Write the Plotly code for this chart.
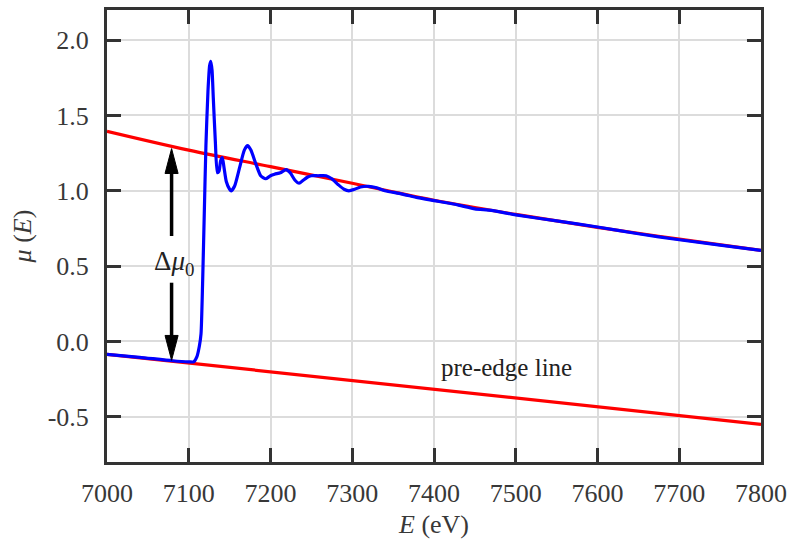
import plotly.graph_objects as go

# ---- data ----
# measured absorption mu(E)
energy = [7000, 7040, 7080, 7100, 7106, 7110, 7113, 7115, 7117, 7119, 7121,
          7123.5, 7125.5, 7127, 7128.5, 7130, 7132.5, 7135, 7137, 7139, 7141,
          7143, 7146, 7150, 7152, 7156, 7162, 7168, 7172, 7176, 7182, 7188,
          7194, 7200, 7205, 7212, 7219, 7224, 7230, 7235, 7240, 7245, 7250,
          7258, 7268, 7275, 7283, 7290, 7296, 7303, 7310, 7320, 7330, 7340,
          7360, 7380, 7400, 7430, 7450, 7470, 7500, 7550, 7600, 7650, 7700,
          7750, 7800]
mu = [-0.085, -0.105, -0.128, -0.135, -0.135, -0.10, -0.03, 0.05, 0.40, 0.85,
      1.30, 1.66, 1.83, 1.86, 1.80, 1.62, 1.33, 1.12, 1.13, 1.20, 1.22, 1.16,
      1.06, 1.01, 1.00, 1.03, 1.15, 1.27, 1.30, 1.27, 1.18, 1.10, 1.08, 1.10,
      1.11, 1.12, 1.14, 1.12, 1.07, 1.05, 1.07, 1.09, 1.10, 1.10, 1.10, 1.08,
      1.04, 1.01, 1.00, 1.01, 1.025, 1.03, 1.02, 1.00, 0.98, 0.955, 0.935,
      0.905, 0.88, 0.87, 0.84, 0.80, 0.76, 0.715, 0.675, 0.64, 0.605]

# post-edge line
post_energy = [7000, 7100, 7200, 7300, 7400, 7500, 7600, 7700, 7800]
post_mu = [1.395, 1.27, 1.16, 1.05, 0.937, 0.843, 0.757, 0.679, 0.605]

# pre-edge line
pre_energy = [7000, 7800]
pre_mu = [-0.085, -0.55]

# annotation positions
step_energy = 7079
step_top = 1.28
step_bottom = -0.125
step_label_mu = 0.52
pre_label_energy = 7489
pre_label_mu = -0.17

x_ticks = [7000, 7100, 7200, 7300, 7400, 7500, 7600, 7700, 7800]
y_ticks = [-0.5, 0.0, 0.5, 1.0, 1.5, 2.0]
y_ticklabels = ["-0.5", "0.0", "0.5", "1.0", "1.5", "2.0"]

FONT = "Liberation Serif"
AXCOL = "#333333"
TXT = "#383838"

# arrow geometry (style)
head_half = 8.0      # eV, half width of arrow head
head_len = 0.165     # mu units, arrow head length
upper_tail = 0.70
lower_tail = 0.39

fig = go.Figure()
fig.add_trace(go.Scatter(x=post_energy, y=post_mu, mode="lines",
                         line=dict(color="#ff0000", width=3.2, shape="spline"),
                         showlegend=False, hoverinfo="skip"))
fig.add_trace(go.Scatter(x=pre_energy, y=pre_mu, mode="lines",
                         line=dict(color="#ff0000", width=3.2),
                         showlegend=False, hoverinfo="skip"))
fig.add_trace(go.Scatter(x=energy, y=mu, mode="lines",
                         line=dict(color="#0000ff", width=3.2, shape="spline",
                                   smoothing=0.6),
                         showlegend=False))

# double arrow for the edge step: shafts
fig.add_shape(type="line", xref="x", yref="y",
              x0=step_energy, x1=step_energy,
              y0=upper_tail, y1=step_top - head_len * 0.9,
              line=dict(color="black", width=3.5))
fig.add_shape(type="line", xref="x", yref="y",
              x0=step_energy, x1=step_energy,
              y0=lower_tail, y1=step_bottom + head_len * 0.9,
              line=dict(color="black", width=3.5))
# arrow heads
up_path = (f"M {step_energy} {step_top} "
           f"L {step_energy - head_half} {step_top - head_len} "
           f"L {step_energy + head_half} {step_top - head_len} Z")
down_path = (f"M {step_energy} {step_bottom} "
             f"L {step_energy - head_half} {step_bottom + head_len} "
             f"L {step_energy + head_half} {step_bottom + head_len} Z")
for p in (up_path, down_path):
    fig.add_shape(type="path", xref="x", yref="y", path=p,
                  fillcolor="black", line=dict(color="black", width=1))

fig.add_annotation(x=step_energy + 3, y=step_label_mu, xref="x", yref="y",
                   text="Δ<i>μ</i><sub>0</sub>", showarrow=False,
                   font=dict(family=FONT, size=27, color="#222222"))
fig.add_annotation(x=pre_label_energy, y=pre_label_mu, xref="x", yref="y",
                   text="pre-edge line", showarrow=False,
                   font=dict(family=FONT, size=25, color="#222222"))

axis_common = dict(showline=True, linewidth=3, linecolor=AXCOL, mirror="ticks",
                   ticks="inside", ticklen=14, tickwidth=3, tickcolor=AXCOL,
                   showgrid=True, gridcolor="#dcdcdc", gridwidth=2,
                   zeroline=False,
                   tickfont=dict(family=FONT, size=26, color=TXT))

fig.update_xaxes(range=[7000, 7800], tickvals=x_ticks,
                 ticktext=[str(v) for v in x_ticks],
                 title=dict(text="<i>E</i> (eV)", standoff=8,
                            font=dict(family=FONT, size=26, color=TXT)),
                 ticklabelstandoff=6, **axis_common)
fig.update_yaxes(range=[-0.8, 2.2], tickvals=y_ticks, ticktext=y_ticklabels,
                 title=dict(text="<i>μ</i> (<i>E</i>)", standoff=9,
                            font=dict(family=FONT, size=26, color=TXT)),
                 ticklabelstandoff=10, **axis_common)

fig.update_layout(width=794, height=544, plot_bgcolor="white",
                  paper_bgcolor="white",
                  margin=dict(l=107, r=31, t=7, b=82, pad=0))

fig.write_html("out.html", config={"displayModeBar": False},
               post_script="document.body.style.margin='0';"
                           "document.body.style.padding='0';")
